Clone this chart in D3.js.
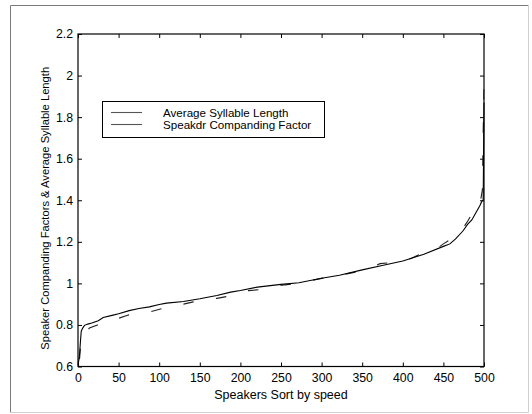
<!DOCTYPE html>
<html><head><meta charset="utf-8">
<script src="https://cdn.jsdelivr.net/npm/d3@7"></script>
<style>body{margin:0;background:#fff}svg{display:block}text{font-family:"Liberation Sans",Arial,sans-serif;fill:#000}</style>
</head><body>
<script>
const xTicks = [0,50,100,150,200,250,300,350,400,450,500];
const yTicks = [0.6,0.8,1,1.2,1.4,1.6,1.8,2,2.2];
const seriesNames = ["Average Syllable Length","Speakdr Companding Factor"];
const syllX = [0,1,2,3,4,6,8,12,17,25,31,42,50,63,75,88,100,109,130,150,171,188,200,221,250,272,300,322,350,376,400,426,450,458,465,474,480,485,490,495,497,499,500];
const syllY = [0.608,0.63,0.664,0.72,0.77,0.786,0.798,0.804,0.809,0.82,0.836,0.846,0.854,0.869,0.879,0.887,0.898,0.905,0.913,0.926,0.942,0.958,0.966,0.982,0.995,1.003,1.025,1.039,1.065,1.087,1.108,1.14,1.178,1.19,1.214,1.252,1.285,1.305,1.34,1.375,1.392,1.402,1.87];
const compX = [0,2,4,8,12,14,24,30,40,50,61,75,90,104,118,130,142,156,171,185,200,210,224,240,255,270,300,320,340,360,372,386,400,410,420,430,440,450,462,470,480,486,490,495,498,500];
const compY = [0.6,0.64,0.74,0.765,0.776,0.785,0.8,0.815,0.826,0.832,0.847,0.856,0.864,0.879,0.893,0.9,0.911,0.918,0.928,0.938,0.955,0.965,0.97,0.984,0.993,1.0,1.024,1.037,1.053,1.072,1.095,1.1,1.108,1.12,1.138,1.148,1.162,1.19,1.22,1.24,1.3,1.34,1.345,1.38,1.45,2.0];

const W=532,H=414;
const svg=d3.select("body").append("svg").attr("width",W).attr("height",H);
// outer frame
svg.append("line").attr("x1",10.5).attr("y1",5.5).attr("x2",10.5).attr("y2",412.5).attr("stroke","#7a7a7a");
svg.append("line").attr("x1",10.5).attr("y1",5.5).attr("x2",528.5).attr("y2",5.5).attr("stroke","#7a7a7a");
svg.append("line").attr("x1",528.5).attr("y1",5.5).attr("x2",528.5).attr("y2",412.5).attr("stroke","#d0d0d0");
svg.append("line").attr("x1",10.5).attr("y1",412.5).attr("x2",528.5).attr("y2",412.5).attr("stroke","#d0d0d0");

const L=78,R=484,T=34,B=366.5;
const x=d3.scaleLinear().domain([0,500]).range([L,R]);
const y=d3.scaleLinear().domain([0.6,2.2]).range([B,T]);
const fmt=d=>String(d);

const gx=svg.append("g").attr("transform",`translate(0,${B})`)
  .call(d3.axisBottom(x).tickValues(xTicks).tickFormat(fmt).tickSizeInner(-4).tickSizeOuter(0).tickPadding(7));
const gxt=svg.append("g").attr("transform",`translate(0,${T})`)
  .call(d3.axisTop(x).tickValues(xTicks).tickFormat("").tickSizeInner(-4).tickSizeOuter(0));
const gy=svg.append("g").attr("transform",`translate(${L},0)`)
  .call(d3.axisLeft(y).tickValues(yTicks).tickFormat(fmt).tickSizeInner(-4).tickSizeOuter(0).tickPadding(5));
const gyr=svg.append("g").attr("transform",`translate(${R},0)`)
  .call(d3.axisRight(y).tickValues(yTicks).tickFormat("").tickSizeInner(-4).tickSizeOuter(0));
[gx,gxt,gy,gyr].forEach(g=>{g.selectAll(".domain").remove();g.selectAll("line").attr("stroke","#000");
  g.selectAll("text").attr("font-size",12.3).attr("font-family","Liberation Sans, Arial, sans-serif").attr("fill","#000");});
svg.append("rect").attr("x",L).attr("y",T).attr("width",R-L).attr("height",B-T).attr("fill","none").attr("stroke","#000").attr("stroke-width",1.2);

const line=d3.line().x(d=>x(d[0])).y(d=>y(d[1]));
const comp=compX.map((v,i)=>[v,compY[i]]);
const syll=syllX.map((v,i)=>[v,syllY[i]]);
const cp=svg.append("path").datum(comp).attr("d",line).attr("fill","none").attr("stroke","#222").attr("stroke-width",1.1);
// align dash phase so a dash starts near x=13
const probe=svg.append("path").attr("d",line(comp.filter(d=>d[0]<=12).concat([[13,0.78]]))).attr("fill","none");
const startLen=probe.node().getTotalLength(); probe.remove();
const period=33, dash=10.5;
cp.attr("stroke-dasharray",`${dash},${period-dash}`).attr("stroke-dashoffset",period-(startLen%period));
svg.append("path").datum(syll).attr("d",line).attr("fill","none").attr("stroke","#000").attr("stroke-width",1.1);

// axis labels
svg.append("text").attr("x",(L+R)/2).attr("y",399).attr("text-anchor","middle").attr("font-size",12.5).text("Speakers Sort by speed");
svg.append("text").attr("transform",`translate(49,${(T+B)/2+8}) rotate(-90)`).attr("text-anchor","middle").attr("font-size",11.2).text("Speaker Companding Factors & Average Syllable Length");

// legend
const lg=svg.append("g");
lg.append("rect").attr("x",102.5).attr("y",101.5).attr("width",222).attr("height",36).attr("fill","#fff").attr("stroke","#000");
seriesNames.forEach((n,i)=>{
  const yy=112.5+i*12;
  lg.append("line").attr("x1",111).attr("x2",142).attr("y1",yy).attr("y2",yy).attr("stroke","#555").attr("stroke-width",1.1);
  lg.append("text").attr("x",163).attr("y",yy+4).attr("font-size",11.6).text(n);
});
</script>
</body></html>
